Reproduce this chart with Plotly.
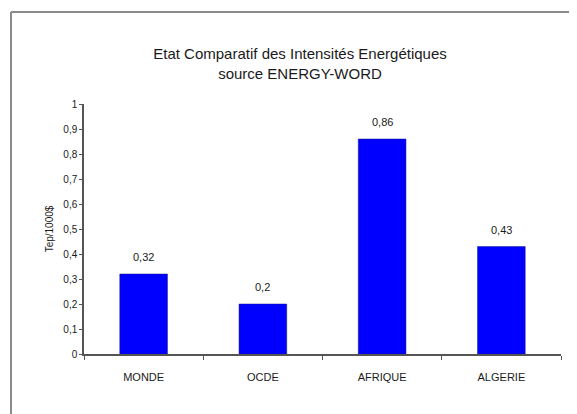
import plotly.graph_objects as go

categories = ["MONDE", "OCDE", "AFRIQUE", "ALGERIE"]
values = [0.32, 0.2, 0.86, 0.43]
value_labels = ["0,32", "0,2", "0,86", "0,43"]
ytick_vals = [0, 0.1, 0.2, 0.3, 0.4, 0.5, 0.6, 0.7, 0.8, 0.9, 1]
ytick_text = ["0", "0,1", "0,2", "0,3", "0,4", "0,5", "0,6", "0,7", "0,8", "0,9", "1"]

W, H = 577, 414
ML, MR, MT, MB = 76, 24, 96, 68
PW, PH = W - ML - MR, H - MT - MB
font_family = "Liberation Sans, Arial, sans-serif"
txt = "#1a1a1a"

fig = go.Figure()
fig.add_trace(go.Bar(
    x=categories, y=values,
    marker=dict(color="#0000FF", line=dict(color="#1a1a8c", width=0.5)),
    width=0.4,
))

for cat, val, lab in zip(categories, values, value_labels):
    fig.add_annotation(
        x=cat, y=val, text=lab, showarrow=False,
        yanchor="middle", yshift=17,
        font=dict(size=11, color=txt, family=font_family),
    )

bx = (3 - ML) / PW
by = (H - MB - 4) / PH

fig.update_layout(
    width=W, height=H,
    paper_bgcolor="white", plot_bgcolor="white",
    margin=dict(l=ML, r=MR, t=MT, b=MB, autoexpand=False),
    showlegend=False,
    font=dict(family=font_family, color=txt),
    title=dict(
        text="Etat Comparatif des Intensités Energétiques<br>source ENERGY-WORD",
        x=292 / W, xanchor="center", xref="container",
        y=1 - 51 / H, yanchor="middle", yref="container",
        font=dict(size=15, family=font_family, color=txt),
    ),
    xaxis=dict(
        showline=True, linecolor="#555555", linewidth=1.5,
        ticks="outside", tickson="boundaries", ticklen=4, tickcolor="#555555",
        tickfont=dict(size=11, family=font_family, color=txt),
        ticklabelstandoff=12,
        showgrid=False, zeroline=False,
    ),
    yaxis=dict(
        range=[0, 1], tickvals=ytick_vals, ticktext=ytick_text,
        showline=True, linecolor="#555555", linewidth=1.5,
        ticks="outside", ticklen=3, tickcolor="#555555",
        tickfont=dict(size=10, family=font_family, color=txt),
        showgrid=False, zeroline=False,
        title=dict(text="Tep/1000$", font=dict(size=10, family=font_family, color=txt), standoff=8),
    ),
    shapes=[
        dict(type="line", xref="paper", yref="paper",
             x0=bx, x1=(W - ML) / PW + 0.05, y0=by, y1=by,
             line=dict(color="#8a8a8a", width=2)),
        dict(type="line", xref="paper", yref="paper",
             x0=bx, x1=bx, y0=by, y1=-MB / PH - 0.05,
             line=dict(color="#8a8a8a", width=2)),
    ],
)

fig.write_html("out.html")
